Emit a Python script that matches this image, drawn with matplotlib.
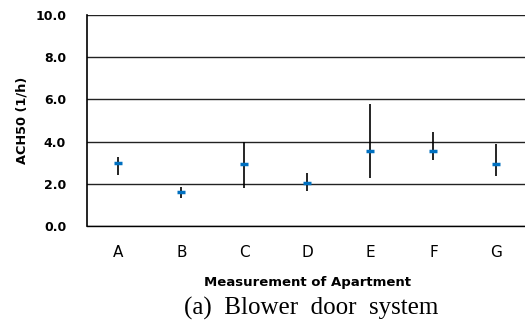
import matplotlib.pyplot as plt

# --- data ---
apartments = ["A", "B", "C", "D", "E", "F", "G"]
ach50_mean = [2.97, 1.61, 2.92, 2.04, 3.54, 3.57, 2.92]
ach50_max = [3.26, 1.86, 4.00, 2.51, 5.81, 4.47, 3.89]
ach50_min = [2.42, 1.34, 1.79, 1.67, 2.29, 3.13, 2.36]
yticks = [0.0, 2.0, 4.0, 6.0, 8.0, 10.0]

err_lo = [m - lo for m, lo in zip(ach50_mean, ach50_min)]
err_hi = [hi - m for m, hi in zip(ach50_mean, ach50_max)]
x = list(range(len(apartments)))

fig = plt.figure(figsize=(5.25, 3.22), dpi=100)
ax = fig.add_axes([0.1657, 0.298, 0.84, 0.655])

for y in yticks:
    ax.axhline(y, color="#222222", lw=1.0, zorder=1)

ax.errorbar(x, ach50_mean, yerr=[err_lo, err_hi], fmt="none",
            ecolor="black", elinewidth=1.2, capsize=0, zorder=2)
ax.scatter(x, ach50_mean, marker="_", s=26, linewidths=2.5,
           color="#0070C0", zorder=3)

ax.set_xlim(-0.5, len(apartments) - 0.5)
ax.set_ylim(0, 10)
ax.set_xticks(x)
ax.set_xticklabels(apartments, fontsize=11)
ax.set_yticks(yticks)
ax.set_yticklabels([f"{v:.1f}" for v in yticks], fontsize=9, fontweight="bold")
ax.tick_params(axis="both", length=0)
ax.tick_params(axis="x", pad=14)
ax.tick_params(axis="y", pad=15)

for s in ["top", "right"]:
    ax.spines[s].set_visible(False)
ax.spines["left"].set_linewidth(1.2)
ax.spines["bottom"].set_linewidth(1.0)

ax.set_ylabel("ACH50 (1/h)", fontsize=9.3, fontweight="bold", labelpad=5)
ax.set_xlabel("Measurement of Apartment", fontsize=9.5, fontweight="bold", labelpad=11)

fig.text(0.592, 0.022, "(a)  Blower  door  system", ha="center", va="baseline",
         fontsize=18, family="Liberation Serif")

fig.savefig("out.png", dpi=100)
